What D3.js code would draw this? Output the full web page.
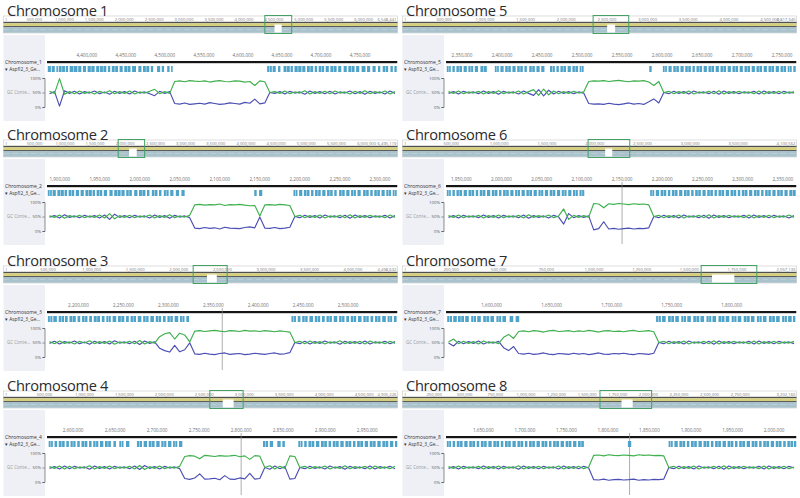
<!DOCTYPE html>
<html><head><meta charset="utf-8">
<script src="https://cdn.jsdelivr.net/npm/d3@7"></script>
<style>body{margin:0;background:#fff}svg{display:block;font-family:"Open Sans",sans-serif}</style>
</head><body><svg id="chart" width="800" height="498"></svg>
<script>
const titles = ["Chromosome 1","Chromosome 2","Chromosome 3","Chromosome 4","Chromosome 5","Chromosome 6","Chromosome 7","Chromosome 8"];
const seqNames = ["Chromosome_1","Chromosome_2","Chromosome_3","Chromosome_4","Chromosome_5","Chromosome_6","Chromosome_7","Chromosome_8"];
const trackName = "AspfI2_3_Ge...";
const gcName = "GC Conte...";
const chromLengths = [6548441, 6495119, 4498632, 4905226, 4817340, 4100562, 2057133, 3202160];
const overviewSteps = [500000, 500000, 500000, 500000, 500000, 500000, 250000, 250000];
const viewStarts = [4349000, 1884000, 2165000, 2569000, 2330000, 1931000, 1562000, 1605000];
const viewEnds   = [4798000, 2322000, 2555000, 2986000, 2768000, 2367000, 1854000, 2027000];
const gapStarts  = [4511000, 2063000, 2324000, 2731000, 2503000, 2110000, 1619000, 1781000];
const gapEnds    = [4630000, 2191000, 2436000, 2867000, 2601000, 2184000, 1736000, 1872000];
const cursorPositions = [null, null, 2360000, 2800000, null, 2150000, null, 1826000];
const mainStep = 50000;
const gcTickValues = [100, 50, 0];
const gcTickLabels = ["100%", "50%", "0%"];

const gcGreen = [
 [54,47,98,44,53,46,55,47,52,45,54,48,56,46,53,47,55,45,52,48,54,61,46,53,47,88,90,87,91,89,88,90,86,89,91,88,87,90,89,86,88,74,90,87,50,53,47,55,46,52,48,56,45,53,47,54,46,55,48,52,45,54,47,56,46,53,48,55,45,53],
 [52,47,55,44,53,48,54,46,52,47,55,45,60,42,53,47,54,46,52,48,55,45,53,47,56,46,52,48,54,90,92,89,91,90,93,88,91,90,92,89,87,88,52,90,91,89,92,90,88,50,54,46,53,47,55,45,52,48,54,46,56,45,53,47,54,48,52,46,55,47],
 [53,46,55,47,52,45,54,48,56,46,53,47,55,44,52,48,54,46,57,45,53,48,70,80,84,62,82,76,52,89,91,88,90,92,89,87,91,90,88,92,89,90,88,91,89,87,90,88,86,50,54,46,55,47,53,45,52,48,56,46,53,47,54,45,55,48,52,46,54,47],
 [53,47,55,45,54,46,52,48,56,45,53,47,55,46,52,48,54,45,57,43,53,47,55,46,52,48,54,88,91,89,80,92,90,88,91,89,90,92,87,90,78,91,89,50,56,45,54,47,90,88,50,54,46,53,48,55,45,52,47,56,46,53,48,54,45,55,47,52,46,54],
 [53,47,55,46,52,48,54,45,53,47,56,46,52,48,55,45,53,60,40,62,42,55,46,53,47,54,48,52,88,90,89,91,88,90,92,89,87,90,89,91,86,74,88,50,54,46,53,47,55,45,52,48,54,46,56,45,53,47,54,48,52,46,55,45,53,47,54,46,52,48],
 [53,47,55,46,52,48,54,45,53,47,55,46,52,48,54,45,56,47,53,48,55,46,52,76,40,54,47,53,48,95,93,80,94,92,95,93,91,94,92,93,90,50,54,46,53,47,55,45,52,48,54,46,56,45,53,47,54,48,52,46,55,45,53,47,54,46,52,48,55,47],
 [52,62,46,54,47,53,45,55,48,52,46,68,78,64,88,90,87,91,89,86,90,92,88,89,91,87,90,88,92,89,86,90,91,88,89,87,90,92,88,89,91,87,50,54,46,53,47,55,45,52,48,54,46,56,45,53,47,54,48,52,46,55,45,53,47,54,46,52,48,54],
 [53,47,55,46,52,48,54,45,53,47,55,46,52,48,56,45,53,47,54,46,52,48,55,45,53,47,54,46,52,92,93,90,94,92,91,93,92,90,94,92,93,91,92,90,50,54,46,53,47,55,45,52,48,54,46,56,45,53,47,54,48,52,46,55,45,53,47,54,46,52]
];
const gcBlue = [
 [46,53,3,56,47,54,45,53,48,55,46,52,44,54,47,53,45,55,48,52,46,39,54,47,53,12,10,14,9,11,13,10,15,12,9,11,14,12,10,16,13,27,11,14,50,47,53,45,54,48,52,44,55,47,53,46,54,45,52,48,55,46,53,44,54,47,52,45,55,47],
 [48,53,45,56,47,52,46,54,48,53,45,55,40,58,47,53,46,54,48,52,45,55,47,53,44,54,48,52,46,10,8,12,9,11,7,13,10,9,8,12,14,11,48,10,9,12,8,10,13,50,46,54,47,53,45,55,48,52,46,54,44,55,47,53,46,52,48,54,45,53],
 [47,54,45,53,48,55,46,52,44,54,47,53,45,56,48,52,46,54,43,55,47,52,30,22,17,40,18,25,49,11,9,13,10,8,12,14,9,11,12,8,10,13,11,9,12,14,10,11,15,50,46,54,45,53,47,55,48,52,44,54,47,53,46,55,45,52,48,54,46,53],
 [47,53,45,55,46,54,48,52,44,55,47,53,45,54,48,52,46,55,43,57,47,53,45,54,48,52,46,12,9,14,28,10,11,13,8,22,10,9,14,11,30,10,12,50,44,55,46,53,10,12,50,46,54,47,52,45,55,48,53,44,54,47,52,46,55,45,53,48,54,46],
 [47,53,45,54,48,52,46,55,47,53,44,54,48,52,45,55,47,40,60,38,58,45,54,47,53,46,52,48,12,10,11,9,13,10,8,11,14,10,12,9,18,28,14,50,46,54,47,53,45,55,48,52,46,54,44,55,47,53,46,52,48,54,45,55,47,53,46,54,48,52],
 [47,53,45,54,48,52,46,55,47,53,45,54,48,52,46,55,44,53,47,52,45,54,48,24,60,46,53,47,52,4,8,32,7,9,6,8,10,7,9,8,11,50,46,54,47,53,45,55,48,52,46,54,44,55,47,53,46,52,48,54,45,55,47,53,46,54,48,52,45,53],
 [48,38,54,46,53,47,55,45,52,48,54,32,22,36,12,10,13,9,11,14,10,8,12,11,9,13,10,12,8,11,14,10,9,12,11,13,10,8,12,11,9,13,50,46,54,47,53,45,55,48,52,46,54,44,55,47,53,46,52,48,54,45,55,47,53,46,54,48,52,46],
 [47,53,45,54,48,52,46,55,47,53,45,54,48,52,44,55,47,53,46,54,48,52,45,55,47,53,46,54,48,8,7,10,6,8,9,7,8,10,6,8,7,9,8,10,50,46,54,47,53,45,55,48,52,46,54,44,55,47,53,46,52,48,54,45,55,47,53,46,54,48]
];

// gene features, [start, end] in kb
const genes = [
 [[4350,4354],[4355,4359],[4361,4363],[4364,4372],[4373,4376],[4378,4388],[4389,4393],[4395,4399],[4401,4410],[4412,4416],[4417,4425],[4427,4430],[4432,4440],[4442,4446],[4448,4456],[4458,4463],[4466,4470],[4472,4480],[4482,4485],[4490,4494],[4496,4499],[4503,4506],[4508,4510],
  [4631,4637],[4638,4642],[4645,4648],[4652,4660],[4661,4664],[4666,4675],[4676,4680],[4682,4690],[4692,4695],[4697,4704],[4706,4710],[4712,4720],[4722,4726],[4729,4733],[4735,4743],[4745,4749],[4752,4757],[4759,4763],[4766,4770],[4773,4776],[4779,4786],[4789,4792],[4794,4797]],
 [[1885,1890],[1891,1895],[1897,1905],[1906,1909],[1911,1918],[1920,1924],[1926,1930],[1932,1940],[1941,1944],[1946,1953],[1955,1959],[1962,1966],[1968,1976],[1977,1981],[1983,1990],[1993,1997],[1999,2007],[2009,2012],[2015,2022],[2024,2027],[2030,2036],[2038,2042],[2045,2049],[2052,2056],
  [2143,2146],[2149,2153],
  [2192,2197],[2199,2203],[2205,2212],[2214,2217],[2219,2226],[2228,2232],[2234,2241],[2243,2246],[2249,2256],[2258,2262],[2264,2270],[2272,2276],[2279,2286],[2288,2291],[2293,2300],[2302,2306],[2308,2314],[2316,2321]],
 [[2166,2171],[2172,2176],[2178,2184],[2185,2188],[2190,2197],[2199,2202],[2204,2210],[2212,2215],[2217,2224],[2226,2229],[2231,2236],[2238,2242],[2244,2251],[2253,2256],[2258,2264],[2266,2270],[2272,2278],[2280,2284],[2286,2292],[2294,2297],[2299,2305],[2307,2311],[2313,2318],[2320,2323],
  [2437,2442],[2444,2447],[2449,2455],[2457,2461],[2463,2469],[2471,2474],[2476,2482],[2484,2488],[2490,2496],[2498,2501],[2503,2509],[2511,2515],[2517,2523],[2525,2528],[2530,2536],[2538,2542],[2544,2549],[2551,2554]],
 [[2571,2576],[2578,2581],[2583,2590],[2592,2595],[2597,2603],[2605,2608],[2610,2617],[2619,2622],[2624,2630],[2632,2636],[2638,2645],[2648,2651],[2655,2660],[2663,2667],
  [2676,2682],[2684,2688],[2690,2697],[2699,2703],[2705,2711],[2713,2717],[2719,2724],[2726,2730],
  [2826,2832],[2834,2838],[2843,2847],[2849,2852],
  [2868,2873],[2875,2878],[2880,2887],[2889,2893],[2895,2902],[2904,2907],[2909,2916],[2918,2922],[2924,2931],[2933,2936],[2938,2945],[2947,2951],[2953,2960],[2962,2966],[2968,2975],[2977,2981],[2983,2986]],
 [[2331,2336],[2338,2341],[2343,2350],[2352,2356],[2358,2364],[2366,2370],[2373,2381],
  [2391,2396],[2398,2402],[2404,2411],[2413,2417],[2419,2426],[2428,2431],[2434,2441],[2443,2447],[2449,2453],
  [2460,2466],[2468,2471],[2473,2480],[2482,2486],[2488,2495],[2497,2502],
  [2584,2587],
  [2601,2606],[2608,2612],[2614,2621],[2623,2627],[2629,2636],[2638,2641],[2643,2650],[2652,2656],[2658,2665],[2667,2671],[2673,2680],[2682,2686],[2688,2695],[2697,2701],[2703,2710],[2712,2716],[2718,2725],[2727,2731],[2733,2740],[2742,2746],[2748,2755],[2757,2762],[2764,2767]],
 [[1932,1937],[1939,1942],[1944,1951],[1953,1957],[1959,1966],[1968,1971],[1973,1980],[1982,1986],[1988,1995],[1997,2000],[2002,2009],[2011,2015],[2017,2023],[2025,2029],[2031,2038],[2040,2044],[2046,2052],[2054,2058],[2060,2067],[2069,2073],[2075,2081],[2083,2087],[2089,2095],[2097,2103],
  [2185,2190],[2192,2196],[2198,2205],[2207,2210],[2212,2219],[2221,2225],[2227,2234],[2236,2239],[2241,2248],[2250,2254],[2256,2263],[2265,2268],[2270,2277],[2279,2283],[2285,2292],[2294,2297],[2299,2306],[2308,2312],[2314,2321],[2323,2326],[2328,2335],[2337,2341],[2343,2350],[2352,2356],[2358,2366]],
 [[1563,1567],[1568,1571],[1572,1577],[1578,1581],[1583,1587],[1588,1591],[1593,1598],[1599,1602],[1604,1608],[1609,1612],[1615,1618],[1620,1623],
  [1737,1741],[1742,1745],[1747,1752],[1753,1756],[1758,1762],[1763,1766],[1768,1773],[1774,1777],[1779,1783],[1784,1787],[1789,1794],[1795,1798],[1800,1804],[1805,1808],[1810,1815],[1816,1819],[1821,1825],[1826,1829],[1831,1836],[1837,1840],[1842,1846],[1847,1850],[1851,1853]],
 [[1606,1611],[1613,1616],[1618,1625],[1627,1631],[1633,1640],[1642,1645],[1647,1654],[1656,1660],[1662,1669],[1671,1674],[1676,1683],[1685,1689],[1691,1698],[1700,1703],[1705,1712],[1714,1718],[1720,1727],[1729,1732],[1734,1741],[1743,1747],[1749,1756],[1758,1762],[1764,1771],
  [1824,1828],
  [1873,1878],[1880,1884],[1886,1893],[1895,1898],[1900,1907],[1909,1913],[1915,1922],[1924,1927],[1929,1936],[1938,1942],[1944,1951],[1953,1956],[1958,1965],[1967,1971],[1973,1980],[1982,1985],[1987,1994],[1996,2000],[2002,2009],[2011,2014],[2016,2023],[2024,2027]]
];

const panelTops = [0, 124, 250, 375];
const fmt = d3.format(",");
const svg = d3.select("#chart");

titles.forEach((title, k) => {
  const col = Math.floor(k / 4), row = k % 4;
  const g = svg.append("g").attr("transform", `translate(${col ? 399 : 0},${panelTops[row]})`);
  const L = 3.5, R = 397.5, M = 47;
  const len = chromLengths[k], vs = viewStarts[k], ve = viewEnds[k];

  // ---------- overview ----------
  const ox = d3.scaleLinear().domain([1, len]).range([L + 1, R - 1]);
  g.append("rect").attr("x", L).attr("y", 16).attr("width", R - L).attr("height", 17)
    .attr("fill", "#fff").attr("stroke", "#c8c8c8").attr("stroke-width", 0.6);
  const oticks = d3.range(overviewSteps[k], len, overviewSteps[k]).filter(v => ox(v) < R - 26);
  g.selectAll(".ot").data(oticks).join("text")
    .attr("x", d => ox(d)).attr("y", 20.8).attr("text-anchor", "middle")
    .attr("font-size", 4.2).attr("fill", "#777").text(d => fmt(d));
  g.append("text").attr("x", L + 1.5).attr("y", 20.8).attr("font-size", 4.2).attr("fill", "#777").text("1");
  g.append("text").attr("x", R - 1).attr("y", 20.8).attr("text-anchor", "end").attr("font-size", 4.2).attr("fill", "#777").text(fmt(len));
  g.append("rect").attr("x", L).attr("y", 21.8).attr("width", R - L).attr("height", 1.5).attr("fill", "#505050");
  g.append("rect").attr("x", L).attr("y", 23.3).attr("width", R - L).attr("height", 2.7).attr("fill", "#d6d07c");
  g.append("rect").attr("x", L).attr("y", 26).attr("width", R - L).attr("height", 1).attr("fill", "#5d5d5d");
  g.append("rect").attr("x", L).attr("y", 27).attr("width", R - L).attr("height", 5.8).attr("fill", "#a9c2cb");
  g.append("line").attr("x1", L).attr("x2", R).attr("y1", 29.5).attr("y2", 29.5)
    .attr("stroke", "#c6d7dd").attr("stroke-width", 0.6).attr("stroke-dasharray", "6,3");
  g.append("rect").attr("x", ox(gapStarts[k])).attr("y", 24.5)
    .attr("width", ox(gapEnds[k]) - ox(gapStarts[k])).attr("height", 8).attr("fill", "#fff");
  g.append("rect").attr("x", ox(vs)).attr("y", 15.5).attr("width", ox(ve) - ox(vs)).attr("height", 18)
    .attr("fill", "none").attr("stroke", "#44a063").attr("stroke-width", 1);

  // title
  g.append("text").attr("x", 7).attr("y", 15.6).attr("font-size", 14.6).attr("letter-spacing", -0.3)
    .attr("fill", "#2b2b2b").text(title);

  // ---------- side panel ----------
  g.append("rect").attr("x", L).attr("y", 35).attr("width", M - 2 - L).attr("height", 86).attr("fill", "#eef0f6");
  g.append("text").attr("x", 5).attr("y", 63.5).attr("font-size", 5).attr("fill", "#333").text(seqNames[k]);
  g.append("text").attr("x", 5).attr("y", 70.5).attr("font-size", 4.8).attr("fill", "#333").text("\u25BE " + trackName);
  g.append("text").attr("x", 7).attr("y", 94).attr("font-size", 4.5).attr("fill", "#9a9a9a").text(gcName);

  // ---------- main view ----------
  const mx = d3.scaleLinear().domain([vs, ve]).range([M, R]);
  const cid = "clip" + k;
  g.append("clipPath").attr("id", cid).append("rect").attr("x", M).attr("y", 0).attr("width", R - M).attr("height", 125);
  const main = g.append("g").attr("clip-path", `url(#${cid})`);
  const mticks = d3.range(Math.ceil(vs / mainStep) * mainStep, ve, mainStep)
    .filter(d => mx(d) > M + 9 && mx(d) < R - 9);
  main.selectAll(".mt").data(mticks).join("text")
    .attr("x", d => mx(d)).attr("y", 57).attr("text-anchor", "middle")
    .attr("font-size", 4.6).attr("fill", "#707070").text(d => fmt(d));
  main.append("rect").attr("x", M).attr("y", 61).attr("width", R - M).attr("height", 2.2).attr("fill", "#151515");

  main.selectAll(".gene").data(genes[k]).join("rect")
    .attr("x", d => mx(d[0] * 1000)).attr("y", 66)
    .attr("width", d => Math.max(1, mx(d[1] * 1000) - mx(d[0] * 1000)))
    .attr("height", 6).attr("fill", "#4fa2c8");
  main.selectAll(".genei").data(genes[k].filter(d => mx(d[1] * 1000) - mx(d[0] * 1000) > 4)).join("rect")
    .attr("x", d => (mx(d[0] * 1000) + mx(d[1] * 1000)) / 2 - 0.4).attr("y", 66)
    .attr("width", 0.8).attr("height", 6).attr("fill", "#b9dcec");

  const gy = d3.scaleLinear().domain([0, 100]).range([107, 78]);
  const axis = d3.axisLeft(gy).tickValues(gcTickValues)
    .tickFormat((d, i) => gcTickLabels[i]).tickSize(2).tickPadding(1.5);
  const ag = g.append("g").attr("transform", `translate(${M - 2.5},0)`).call(axis);
  ag.select(".domain").attr("stroke", "#444").attr("stroke-width", 0.6);
  ag.selectAll(".tick line").attr("stroke", "#444").attr("stroke-width", 0.6);
  ag.selectAll("text").attr("font-size", 4.3).attr("fill", "#555").attr("font-family", "Open Sans");

  if (cursorPositions[k] !== null) {
    main.append("line").attr("x1", mx(cursorPositions[k])).attr("x2", mx(cursorPositions[k]))
      .attr("y1", 58).attr("y2", 120).attr("stroke", "#8a8a8a").attr("stroke-width", 0.7);
  }

  const bin = (ve - vs) / gcGreen[k].length;
  const line = d3.line().x((d, i) => mx(vs + (i + 0.5) * bin)).y(d => gy(d));
  main.append("path").attr("d", line(gcBlue[k])).attr("fill", "none")
    .attr("stroke", "#4b4fb3").attr("stroke-width", 1.15).attr("stroke-linejoin", "round");
  main.append("path").attr("d", line(gcGreen[k])).attr("fill", "none")
    .attr("stroke", "#3fb04e").attr("stroke-width", 1.15).attr("stroke-linejoin", "round");
});
</script>
</body></html>
